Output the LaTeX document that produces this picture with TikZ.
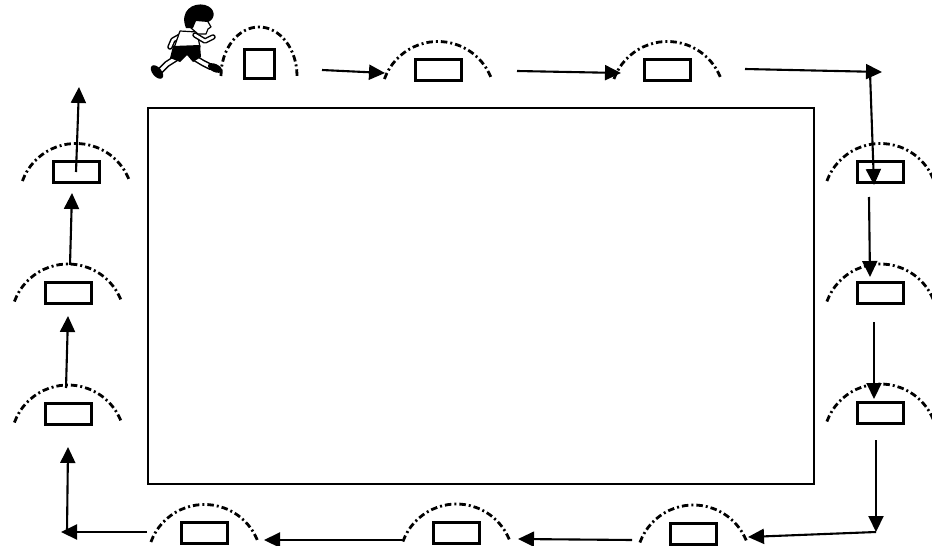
\documentclass[tikz,border=0pt]{standalone}
\usetikzlibrary{arrows.meta}

\begin{document}
\begin{tikzpicture}[
    x=1pt, y=-1pt,
    hurdle/.style={rectangle, draw=black, line width=3pt, minimum width=46pt, minimum height=21pt, inner sep=0pt},
    hop/.style={draw=black, line width=2.8pt, dash pattern=on 6.5pt off 3pt on 2pt off 3pt},
    run/.style={-{Triangle[length=16pt,width=15pt]}, line width=2.1pt}
]
    \clip (0,0) rectangle (932,546);

    % Playing field
    \draw[line width=2.3pt] (148,108) rectangle (814,484);

    % Hurdles round the field
    \node[hurdle, minimum width=30pt, minimum height=29pt] (t1) at (259.5,64) {};
    \node[hurdle] (t2) at (438,70) {};
    \node[hurdle] (t3) at (667.5,70) {};
    \node[hurdle] (r1) at (880.5,172) {};
    \node[hurdle] (r2) at (880.5,292.5) {};
    \node[hurdle] (r3) at (880.5,412.5) {};
    \node[hurdle] (b3) at (693.5,533.5) {};
    \node[hurdle] (b2) at (456.5,532.5) {};
    \node[hurdle] (b1) at (204.5,533) {};
    \node[hurdle] (l3) at (68,413.5) {};
    \node[hurdle] (l2) at (68,292.5) {};
    \node[hurdle] (l1) at (76,172) {};

    % Jump curves over the hurdles
    \draw[hop] ([shift={(-38.5,12)}]t1.center) arc[start angle=180, end angle=0, x radius=38pt, y radius=49pt];
    \foreach \h in {t2,t3,r1,r2,r3,b3,b2,b1,l3,l2,l1}
        \draw[hop] ([shift={(-53.6,9)}]\h.center) arc[start angle=160, end angle=20, radius=57pt];

    % Turning points of the route
    \coordinate (ne) at (870,72);
    \coordinate (se) at (876,532);
    \coordinate (sw) at (67,532);

    % Route
    \coordinate (a1) at (322,70);   \coordinate (a2) at (385,73);
    \coordinate (a3) at (517,71);   \coordinate (a4) at (621,73);
    \coordinate (a5) at (745,69);   \coordinate (a6) at (882,72);
    \coordinate (a7) at (874,185);
    \coordinate (a8) at (869,197);  \coordinate (a9) at (870,277);
    \coordinate (a10) at (874,322); \coordinate (a11) at (874,399);
    \coordinate (a12) at (876,440);
    \coordinate (a13) at (748,537);
    \coordinate (a14) at (632,540); \coordinate (a15) at (518,539);
    \coordinate (a16) at (402,540); \coordinate (a17) at (264,540);
    \coordinate (a18) at (147,532); \coordinate (a19) at (61,532);
    \coordinate (a20) at (68,447);
    \coordinate (a21) at (66,388);  \coordinate (a22) at (68,316);
    \coordinate (a23) at (70,265);  \coordinate (a24) at (72,193);
    \coordinate (a25) at (79,87);

    \draw[run] (a1) -- (a2);
    \draw[run] (a3) -- (a4);
    \draw[run] (a5) -- (a6);
    \draw[run] (ne) -- (a7);
    \draw[run] (a8) -- (a9);
    \draw[run] (a10) -- (a11);
    \draw[run] (a12) -- (se);
    \draw[run] (se) -- (a13);
    \draw[run] (a14) -- (a15);
    \draw[run] (a16) -- (a17);
    \draw[run] (a18) -- (a19);
    \draw[run] (sw) -- (a20);
    \draw[run] (a21) -- (a22);
    \draw[run] (a23) -- (a24);
    \draw[run] (l1.center) -- (a25);

    % Runner at the start
    \begin{scope}[line width=1.2pt, line join=round, line cap=round]
        % legs
        \draw[line width=6.5pt] (178,57) -- (167,64) -- (160,71);
        \draw[white, line width=3.5pt] (178,57) -- (167,64) -- (160,71);
        \draw[line width=6.5pt] (193,57) -- (203,63) -- (211,67);
        \draw[white, line width=3.5pt] (193,57) -- (203,63) -- (211,67);
        % shoes
        \fill[rotate around={-50:(157,72)}] (157,72) ellipse[x radius=8pt, y radius=4.5pt];
        \fill[rotate around={-25:(215,68)}] (215,68) ellipse[x radius=7.5pt, y radius=4pt];
        % back arm
        \draw[line width=5.5pt] (182,35) -- (173,40) -- (170,47);
        \draw[white, line width=2.5pt] (182,35) -- (173,40) -- (170,47);
        % shirt
        \filldraw[fill=white] (180,31) -- (197,32) -- (200,47) -- (174,48) -- cycle;
        % shorts
        \fill (173,46) -- (200,45) -- (201,57) -- (193,62) -- (187,55) -- (180,62) -- (170,58) -- cycle;
        % front arm
        \draw[line width=5.5pt] (195,35) -- (205,41) -- (213,37);
        \draw[white, line width=2.5pt] (195,35) -- (205,41) -- (213,37);
        % face
        \filldraw[fill=white] (193,20) -- (207,20) -- (211,27) -- (208,29) -- (206,34) -- (198,34) -- (191,28) -- cycle;
        % hair
        \fill (186,28) .. controls (179,11) and (193,2) .. (205,5)
            .. controls (216,8) and (216,19) .. (208,22) -- (196,21) -- (193,28) -- cycle;
    \end{scope}
\end{tikzpicture}
\end{document}
